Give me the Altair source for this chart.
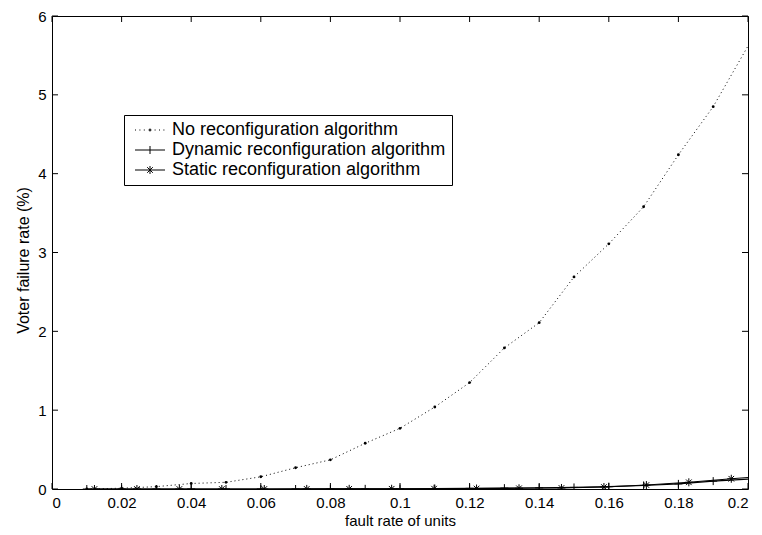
import altair as alt
import pandas as pd

# ---------------- data ----------------
series_names = [
    "No reconfiguration algorithm",
    "Dynamic reconfiguration algorithm",
    "Static reconfiguration algorithm",
]

no_x = [0.01, 0.02, 0.03, 0.04, 0.05, 0.06, 0.07, 0.08, 0.09, 0.10,
        0.11, 0.12, 0.13, 0.14, 0.15, 0.16, 0.17, 0.18, 0.19, 0.20]
no_y = [0.0, 0.01, 0.03, 0.07, 0.085, 0.155, 0.27, 0.37, 0.58, 0.77,
        1.04, 1.35, 1.79, 2.11, 2.69, 3.11, 3.58, 4.24, 4.85, 5.62]

dyn_x = [0.01, 0.02, 0.03, 0.04, 0.05, 0.06, 0.07, 0.08, 0.09, 0.10,
         0.11, 0.12, 0.13, 0.14, 0.15, 0.16, 0.17, 0.18, 0.19, 0.20]
dyn_y = [0.0, 0.0, 0.0, 0.0, 0.0, 0.0, 0.0, 0.001, 0.002, 0.004,
         0.006, 0.008, 0.011, 0.015, 0.02, 0.03, 0.045, 0.065, 0.1, 0.125]

sta_x = [0.0122, 0.0244, 0.0366, 0.0488, 0.061, 0.0732, 0.0854, 0.0976,
         0.1098, 0.122, 0.1342, 0.1464, 0.1586, 0.1708, 0.183, 0.1952, 0.2]
sta_y = [0.0, 0.0, 0.0, 0.0, 0.0, 0.001, 0.002, 0.003,
         0.004, 0.006, 0.009, 0.013, 0.025, 0.05, 0.085, 0.13, 0.145]

x_ticks = [0, 0.02, 0.04, 0.06, 0.08, 0.1, 0.12, 0.14, 0.16, 0.18, 0.2]
y_ticks = [0, 1, 2, 3, 4, 5, 6]

df = pd.concat([
    pd.DataFrame({"x": no_x, "y": no_y, "series": series_names[0]}),
    pd.DataFrame({"x": dyn_x, "y": dyn_y, "series": series_names[1]}),
    pd.DataFrame({"x": sta_x, "y": sta_y, "series": series_names[2]}),
], ignore_index=True)
xt_df = pd.DataFrame({"t": x_ticks})
yt_df = pd.DataFrame({"t": y_ticks})

# ---------------- styling ----------------
FONT = "Liberation Sans"
W, H = 696, 473
TICK = 6

xs = alt.Scale(domain=[0, 0.2], nice=False, zero=False)
ys = alt.Scale(domain=[0, 6], nice=False)

PLUS = "M-1,0L1,0M0,-1L0,1"
STAR = "M-1,0L1,0M0,-1L0,1M-0.7,-0.7L0.7,0.7M-0.7,0.7L0.7,-0.7"

# legend samples: line from -1 to 6.5 units, marker at 2.75
leg_dots = "".join(f"M{v:.2f},0L{v + 0.25:.2f},0" for v in [-1.0, 0.1, 1.2, 3.9, 5.0, 6.1])
LEG_NO = leg_dots + "M2.55,-0.2L2.95,-0.2L2.95,0.2L2.55,0.2Z"
LEG_DYN = "M-1,0L6.5,0M2.75,-1L2.75,1"
LEG_STA = "M-1,0L6.5,0M2.75,-1L2.75,1M2.05,-0.7L3.45,0.7M2.05,0.7L3.45,-0.7"

common_axis = dict(grid=False, domain=False, labelFont=FONT, titleFont=FONT,
                   labelColor="black", titleColor="black")

ax_x_main = alt.Axis(values=x_ticks, format=".2~f", ticks=False, tickSize=0,
                     labelFontSize=15, labelPadding=6, title="fault rate of units",
                     titleFontSize=15, titleFontWeight="normal", titlePadding=3,
                     **common_axis)
ax_y_main = alt.Axis(values=y_ticks, format="d", ticks=False, tickSize=0,
                     labelFontSize=15, labelPadding=6, title="Voter failure rate (%)",
                     titleFontSize=16, titleFontWeight="normal", titlePadding=6,
                     titleY=244, **common_axis)

base = alt.Chart(df)

def sel(name):
    return alt.datum.series == name

no_line = base.mark_line(color="black", strokeWidth=1, strokeDash=[1, 3], clip=True).encode(
    x=alt.X("x:Q", scale=xs, axis=ax_x_main),
    y=alt.Y("y:Q", scale=ys, axis=ax_y_main),
).transform_filter(sel(series_names[0]))

no_pts = base.mark_point(shape="circle", filled=True, color="black", size=8, opacity=1, clip=True).encode(
    x=alt.X("x:Q", scale=xs, axis=None),
    y=alt.Y("y:Q", scale=ys, axis=None),
).transform_filter(sel(series_names[0])).transform_filter("datum.x < 0.2")

dyn_line = base.mark_line(color="black", strokeWidth=1.1, clip=True).encode(
    x=alt.X("x:Q", scale=xs, axis=None),
    y=alt.Y("y:Q", scale=ys, axis=None),
).transform_filter(sel(series_names[1]))

dyn_pts = base.mark_point(shape=PLUS, filled=False, color="black", size=64, strokeWidth=1,
                          opacity=1, clip=True).encode(
    x=alt.X("x:Q", scale=xs, axis=None),
    y=alt.Y("y:Q", scale=ys, axis=None),
).transform_filter(sel(series_names[1])).transform_filter("datum.x < 0.2")

sta_line = base.mark_line(color="black", strokeWidth=1.1, clip=True).encode(
    x=alt.X("x:Q", scale=xs, axis=None),
    y=alt.Y("y:Q", scale=ys, axis=None),
).transform_filter(sel(series_names[2]))

sta_pts = base.mark_point(shape=STAR, filled=False, color="black", size=64, strokeWidth=1,
                          opacity=1, clip=True).encode(
    x=alt.X("x:Q", scale=xs, axis=None),
    y=alt.Y("y:Q", scale=ys, axis=None),
).transform_filter(sel(series_names[2])).transform_filter("datum.x < 0.2")

# inward (MATLAB-style) tick marks on all four sides
xt = alt.Chart(xt_df)
yt = alt.Chart(yt_df)
tick_b = xt.mark_rule(color="black", strokeWidth=1).encode(
    x=alt.X("t:Q", scale=xs, axis=None), y=alt.value(H), y2=alt.value(H - TICK))
tick_t = xt.mark_rule(color="black", strokeWidth=1).encode(
    x=alt.X("t:Q", scale=xs, axis=None), y=alt.value(0), y2=alt.value(TICK))
tick_l = yt.mark_rule(color="black", strokeWidth=1).encode(
    y=alt.Y("t:Q", scale=ys, axis=None), x=alt.value(0), x2=alt.value(TICK))
tick_r = yt.mark_rule(color="black", strokeWidth=1).encode(
    y=alt.Y("t:Q", scale=ys, axis=None), x=alt.value(W), x2=alt.value(W - TICK))

legend_layer = base.mark_point(filled=False, color="black", size=64, strokeWidth=1,
                               opacity=0).encode(
    x=alt.X("x:Q", scale=xs, axis=None),
    y=alt.Y("y:Q", scale=ys, axis=None),
    shape=alt.Shape(
        "series:N",
        scale=alt.Scale(domain=series_names, range=[LEG_NO, LEG_DYN, LEG_STA]),
        legend=alt.Legend(
            title=None, orient="none", legendX=72, legendY=99, direction="vertical",
            labelFont=FONT, labelFontSize=18, labelColor="black", labelLimit=0,
            labelOffset=24, strokeColor="black", fillColor="white", padding=6,
            rowPadding=2, symbolSize=64, symbolStrokeWidth=1, symbolStrokeColor="black",
            symbolOpacity=1, cornerRadius=0,
        ),
    ),
)

chart = alt.layer(
    tick_b, tick_t, tick_l, tick_r,
    no_line, no_pts, dyn_line, dyn_pts, sta_line, sta_pts, legend_layer
).resolve_axis(
    x="independent", y="independent"
).properties(
    width=W, height=H,
    padding={"left": 52, "top": 16, "right": 14, "bottom": 46},
    autosize=alt.AutoSizeParams(type="none"),
    background="white",
).configure_view(
    stroke="black", strokeWidth=1
)

chart.save("out.html", embed_options={"renderer": "svg", "actions": False})
